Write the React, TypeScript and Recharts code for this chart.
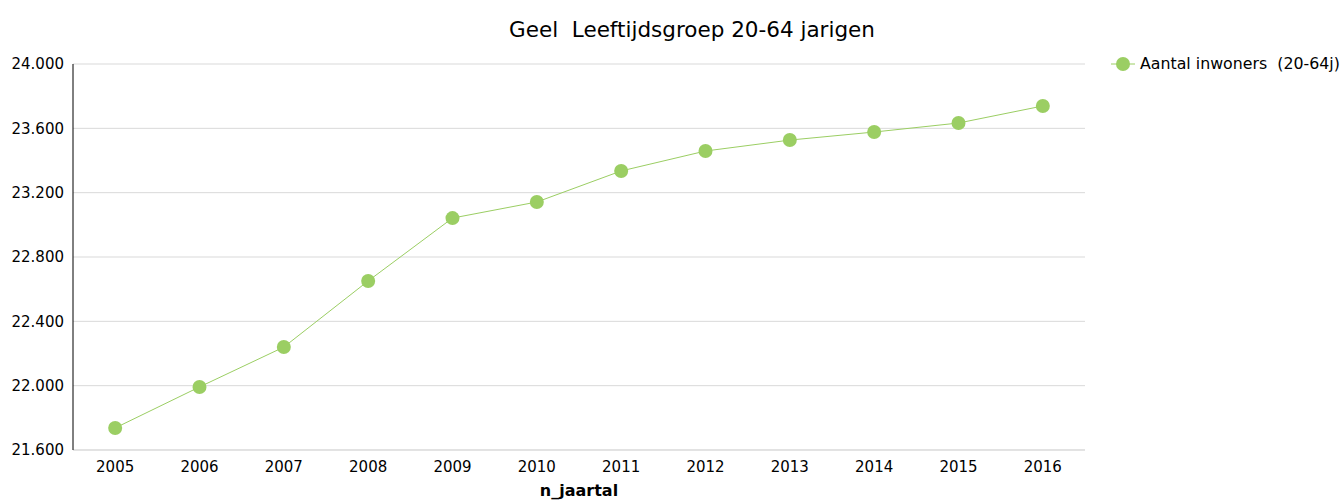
import { LineChart, Line, XAxis, YAxis, CartesianGrid } from 'recharts';

const GREEN = '#9BCE63';
const FONT = "'DejaVu Sans', sans-serif";

const years = ['2005', '2006', '2007', '2008', '2009', '2010', '2011', '2012', '2013', '2014', '2015', '2016'];
const inwoners = [21737, 21992, 22240, 22651, 23042, 23142, 23335, 23459, 23527, 23577, 23633, 23739];
const yTicks = [21600, 22000, 22400, 22800, 23200, 23600, 24000];

const data = years.map((y, i) => ({ jaar: y, inwoners: inwoners[i] }));

function fmt(v: number) {
  return v.toLocaleString('de-DE', { minimumFractionDigits: 0 });
}

export default function App() {
  return (
    <div style={{ position: 'absolute', left: 0, top: 0, width: 1342, height: 501, background: '#fff' }}>
      <div
        style={{
          position: 'absolute', left: 0, width: 1384, top: 17, textAlign: 'center',
          fontFamily: FONT, fontSize: 21.5, whiteSpace: 'pre', color: '#000',
        }}
      >
        Geel  Leeftijdsgroep 20-64 jarigen
      </div>
      {/* legend */}
      <div
        style={{
          position: 'absolute', left: 1110, top: 54, display: 'flex', alignItems: 'center',
          fontFamily: FONT, fontSize: 15.8, color: '#000', whiteSpace: 'pre',
        }}
      >
        <svg width={26} height={18}>
          <line x1={1} y1={9} x2={25} y2={9} stroke={GREEN} strokeWidth={1} />
          <circle cx={13} cy={9} r={7} fill={GREEN} />
        </svg>
        <span style={{ marginLeft: 4 }}>Aantal inwoners  (20-64j)</span>
      </div>
      <LineChart width={1342} height={501} data={data} margin={{ top: 64, right: 257, left: 0, bottom: 0 }}>
        <CartesianGrid vertical={false} stroke="#d9d9d9" />
        <XAxis
          dataKey="jaar"
          scale="band"
          height={51}
          axisLine={{ stroke: '#d9d9d9' }}
          tickLine={false}
          tickSize={6}
          tickMargin={5}
          tick={{ fontSize: 15, fill: '#000', fontFamily: FONT }}
          label={{ value: 'n_jaartal', position: 'insideBottom', offset: 5, style: { fontSize: 16, fontWeight: 'bold', fill: '#000', fontFamily: FONT } }}
        />
        <YAxis
          width={73}
          domain={[21600, 24000]}
          ticks={yTicks}
          tickFormatter={fmt}
          axisLine={{ stroke: '#000' }}
          tickLine={false}
          tickSize={6}
          tickMargin={3}
          tick={{ fontSize: 15, fill: '#000', fontFamily: FONT }}
        />
        <Line
          type="linear"
          dataKey="inwoners"
          stroke={GREEN}
          strokeWidth={1}
          dot={{ r: 7, fill: GREEN, stroke: 'none' }}
          activeDot={false}
          isAnimationActive={false}
        />
      </LineChart>
    </div>
  );
}
